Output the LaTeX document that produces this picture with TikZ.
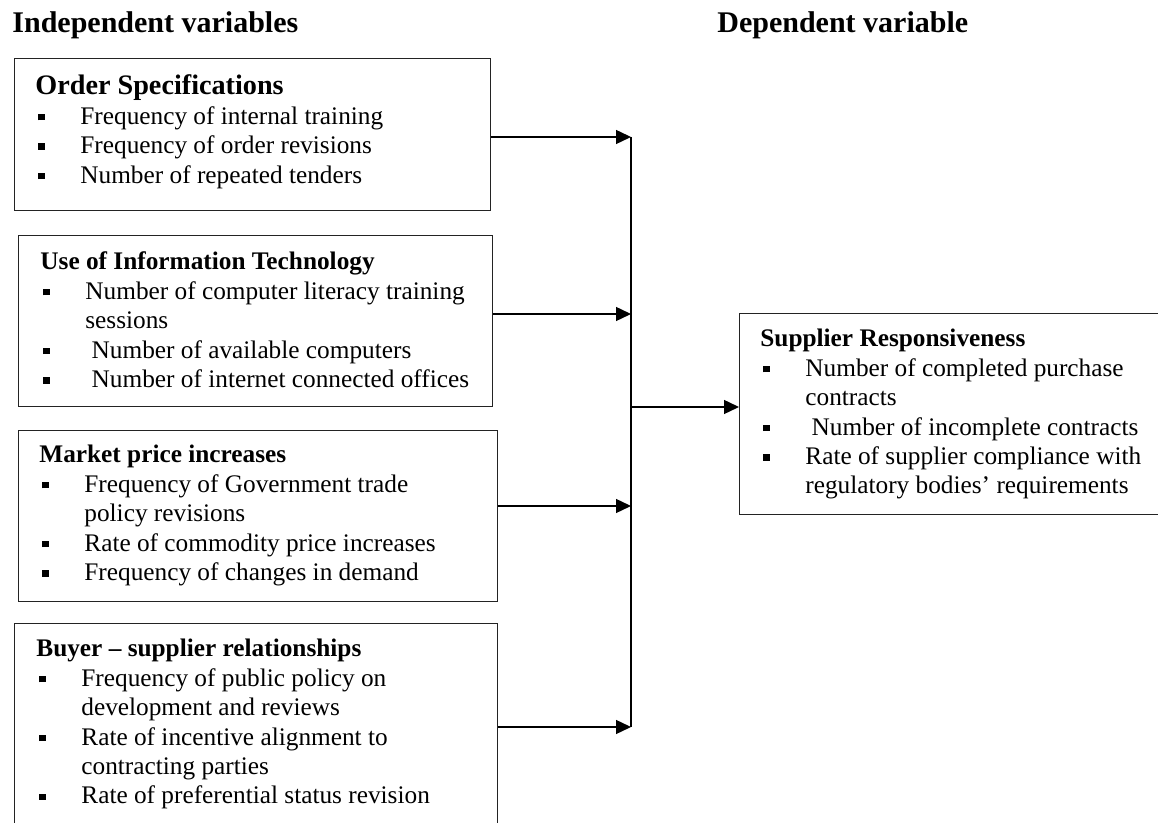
\documentclass[tikz,border=0pt]{standalone}
\usepackage{fontspec}
\setmainfont{Liberation Serif}
\usetikzlibrary{arrows.meta}
\definecolor{boxline}{RGB}{35, 35, 35}
\newcommand{\sq}{\makebox[22.5pt][l]{\hspace{1.5pt}\rule[2pt]{3.2pt}{3.2pt}}}
\newcommand{\cont}{\hspace*{22.5pt}}
\tikzset{
	varbox/.style={draw=boxline, line width=0.7pt, anchor=north west, inner sep=0pt},
	vartext/.style={anchor=base west, inner sep=0pt, font=\fontsize{12.65}{14.7}\selectfont},
	heading/.style={anchor=base west, inner sep=0pt, font=\fontsize{15}{18}\selectfont\bfseries},
	link/.style={line width=0.7pt, -{Triangle[length=7.5pt,width=7pt]}}
}

\begin{document}
\begin{tikzpicture}[x=0.5pt, y=-0.5pt]
			\useasboundingbox (0,0) rectangle (1158,823);
			\node[heading] (indep) at (12,33) {Independent variables};
			\node[heading] (dep) at (717,33) {Dependent variable};

			\node[varbox, minimum width=238pt, minimum height=76pt] (ordspec) at (14,58) {};
			\node[varbox, minimum width=237pt, minimum height=85.5pt] (infotech) at (18,235) {};
			\node[varbox, minimum width=239.5pt, minimum height=85.5pt] (price) at (18,430) {};
			\node[varbox, minimum width=241.5pt, minimum height=108.5pt] (relation) at (14,623) {};
			\node[varbox, minimum width=215.5pt, minimum height=100.5pt] (resp) at (739,313) {};

			\node[vartext] (ordspec-txt) at ([shift={(21,37)}]ordspec.north west) {\begin{tabular}[t]{@{}l@{}}
				{\fontsize{14.1}{14.7}\selectfont\bfseries Order Specifications}\\
				\sq Frequency of internal training\\
				\sq Frequency of order revisions\\
				\sq Number of repeated tenders
			\end{tabular}};
			\node[vartext] (infotech-txt) at ([shift={(22,35)}]infotech.north west) {\begin{tabular}[t]{@{}l@{}}
				\textbf{Use of Information Technology}\\
				\sq Number of computer literacy training\\
				\cont sessions\\
				\sq\ Number of available computers\\
				\sq\ Number of internet connected offices
			\end{tabular}};
			\node[vartext] (price-txt) at ([shift={(21,33)}]price.north west) {\begin{tabular}[t]{@{}l@{}}
				\textbf{Market price increases}\\
				\sq Frequency of Government trade\\
				\cont policy revisions\\
				\sq Rate of commodity price increases\\
				\sq Frequency of changes in demand
			\end{tabular}};
			\node[vartext] (relation-txt) at ([shift={(22,34)}]relation.north west) {\begin{tabular}[t]{@{}l@{}}
				\textbf{Buyer – supplier relationships}\\
				\sq Frequency of public policy on\\
				\cont development and reviews\\
				\sq Rate of incentive alignment to\\
				\cont contracting parties\\
				\sq Rate of preferential status revision
			\end{tabular}};
			\node[vartext] (resp-txt) at ([shift={(21,34)}]resp.north west) {\begin{tabular}[t]{@{}l@{}}
				\textbf{Supplier Responsiveness}\\
				\sq Number of completed purchase\\
				\cont contracts\\
				\sq\ Number of incomplete contracts\\
				\sq Rate of supplier compliance with\\
				\cont regulatory bodies’ requirements
			\end{tabular}};

			\coordinate (bus1) at (631,137);
			\coordinate (bus2) at (631,314);
			\coordinate (bus3) at (631,506);
			\coordinate (bus4) at (631,727);
			\coordinate (join) at (631,407);
			\draw[link] (ordspec.east |- bus1) -- (bus1);
			\draw[link] (infotech.east |- bus2) -- (bus2);
			\draw[link] (price.east |- bus3) -- (bus3);
			\draw[link] (relation.east |- bus4) -- (bus4);
			\draw[line width=0.7pt] (bus1) -- (bus4);
			\draw[link] (join) -- (join -| resp.west);
		\end{tikzpicture}
\end{document}
